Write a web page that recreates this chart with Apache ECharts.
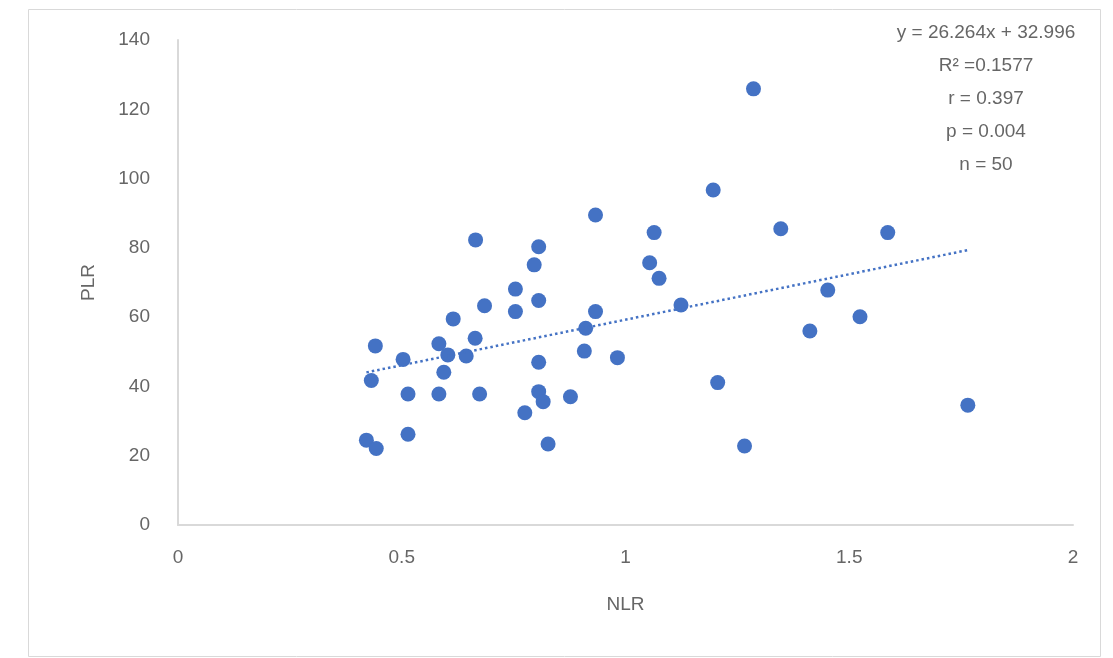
<!DOCTYPE html>
<html>
<head>
<meta charset="utf-8">
<script src="https://cdn.jsdelivr.net/npm/echarts@6/dist/echarts.min.js"></script>
<style>html,body{margin:0;padding:0;background:#fff;}#c{width:1113px;height:658px;}</style>
</head>
<body>
<div id="c"></div>
<script>
var nlr = [0.665,0.806,0.796,0.754,0.806,0.685,0.754,0.933,0.615,0.911,0.441,0.583,0.664,0.603,0.644,0.503,0.908,0.982,0.806,0.594,0.432,0.514,0.583,0.674,0.806,0.816,0.877,0.775,0.514,0.421,0.443,0.827,1.196,0.933,1.064,1.347,1.586,1.054,1.075,1.124,1.452,1.524,1.412,1.206,1.266,1.286,1.765];
var plr = [82.3,80.3,75.1,68.1,64.8,63.3,61.6,61.6,59.5,56.8,51.7,52.3,53.9,49.1,48.8,47.8,50.2,48.3,47.0,44.1,41.7,37.8,37.8,37.8,38.5,35.6,37.0,32.4,26.2,24.5,22.1,23.4,96.7,89.5,84.4,85.5,84.4,75.7,71.2,63.5,67.8,60.1,56.0,41.1,22.8,125.9,34.6];
var slope = 26.264, intercept = 32.996;
var statLines = ['y = 26.264x + 32.996', 'R\u00B2 =0.1577', 'r = 0.397', 'p = 0.004', 'n = 50'];

var pts = nlr.map(function(x,i){return [x, plr[i]];});
var xmin = Math.min.apply(null, nlr), xmax = Math.max.apply(null, nlr);
var trend = [[xmin, slope*xmin+intercept],[xmax, slope*xmax+intercept]];

var chart = echarts.init(document.getElementById('c'));
var txtColor = '#666666';
var fontFam = 'Liberation Sans, Arial, sans-serif';
chart.setOption({
  animation: false,
  grid: {left: 178, right: 40, top: 40, bottom: 133},
  graphic: [
    {type:'rect', shape:{x:28.5,y:9.5,width:1072,height:647}, style:{fill:'none', stroke:'#d9d9d9', lineWidth:1}, silent:true, z:-1},
    {type:'text', x: 986, y: 16, style:{text: statLines.join('\n'), fill: txtColor, font: '19px ' + fontFam, lineHeight: 33, align:'center', verticalAlign:'top'}}
  ],
  xAxis: {
    type:'value', min:0, max:2, interval:0.5,
    name:'NLR', nameLocation:'middle', nameGap:70,
    nameTextStyle:{color:txtColor, fontSize:19, fontFamily:fontFam},
    axisLine:{show:true, lineStyle:{color:'#d9d9d9', width:2}},
    axisTick:{show:false}, splitLine:{show:false},
    axisLabel:{color:txtColor, fontSize:19, fontFamily:fontFam, margin:23}
  },
  yAxis: {
    type:'value', min:0, max:140, interval:20,
    name:'PLR', nameLocation:'middle', nameGap:80,
    nameTextStyle:{color:txtColor, fontSize:19, fontFamily:fontFam},
    axisLine:{show:true, lineStyle:{color:'#d9d9d9', width:2}},
    axisTick:{show:false}, splitLine:{show:false},
    axisLabel:{color:txtColor, fontSize:19, fontFamily:fontFam, margin:28}
  },
  series: [
    {type:'scatter', data: pts, symbol:'circle', symbolSize:15, itemStyle:{color:'#4472C4', opacity:1}, z:3},
    {type:'line', data: trend, symbol:'none', lineStyle:{color:'#4472C4', width:2.5, type:[2.5,3]}, z:4}
  ]
});
</script>
</body>
</html>
